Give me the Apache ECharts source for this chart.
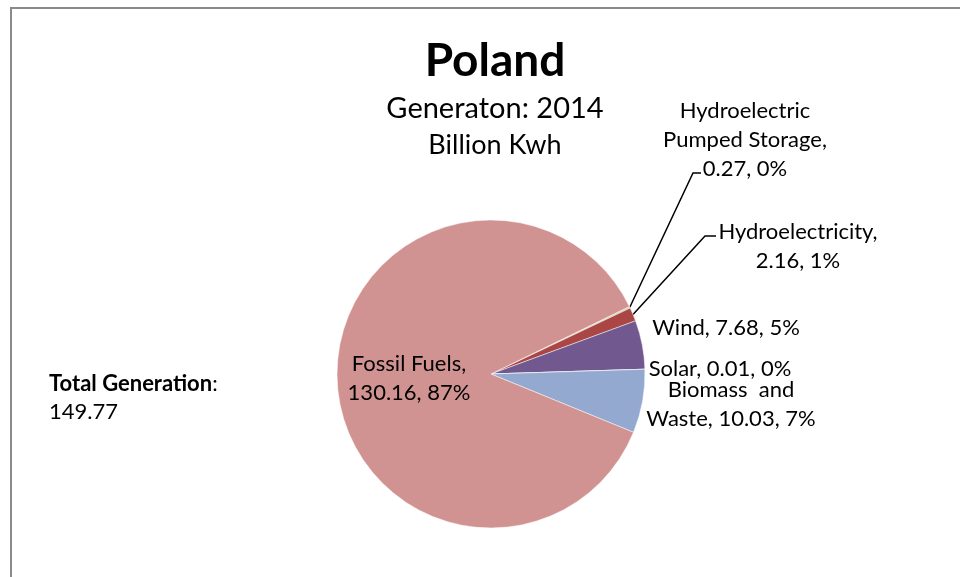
<!DOCTYPE html>
<html>
<head>
<meta charset="utf-8">
<title>Poland</title>
<script src="https://cdn.jsdelivr.net/npm/echarts@6/dist/echarts.min.js"></script>
<style>
  body { margin: 0; background: #fff; }
  #wrap { position: relative; width: 960px; height: 577px; }
  #myChart { width: 960px; height: 577px; }
  #frame {
    position: absolute; left: 10px; top: 7px; right: -4px; bottom: -4px;
    border-top: 2px solid #8a8a8a; border-left: 2px solid #8a8a8a;
    pointer-events: none;
  }
</style>
</head>
<body>
<div id="wrap">
  <div id="myChart"></div>
  <div id="frame"></div>
</div>
<script>
// data (clockwise from the slice at the upper right)
var categories = ['Hydroelectric Pumped Storage', 'Hydroelectricity', 'Wind', 'Solar', 'Biomass and Waste', 'Fossil Fuels'];
var values = [0.27, 2.16, 7.68, 0.01, 10.03, 130.16];
var totalGeneration = '149.77';

// label text templates, same order
var labelTpl = [
  'Hydroelectric\nPumped Storage,\n{c}, {d}%',
  'Hydroelectricity,\n{c}, {d}%',
  'Wind, {c}, {d}%',
  'Solar, {c}, {d}%',
  'Biomass  and\nWaste, {c}, {d}%',
  'Fossil Fuels,\n{c}, {d}%'
];
var colors = ['#c6d39a', '#aa4643', '#71588f', '#8a8a8a', '#93a9d0', '#d09391'];

// where each label sits, and the bend of the leader line
var labelPos = [
  { x: 745, y: 140, line: [[693, 173], [701, 173]] },
  { x: 798, y: 246, line: [[705, 236], [716, 236]] },
  { x: 726, y: 328 },
  { x: 720, y: 369 },
  { x: 731, y: 404 },
  { x: 409, y: 378 }
];

var myChart = echarts.init(document.getElementById('myChart'));

var pieData = categories.map(function (name, i) {
  return {
    name: name,
    value: values[i],
    itemStyle: { color: colors[i] },
    label: { formatter: labelTpl[i] },
    labelLine: { show: !!labelPos[i].line }
  };
});

var option = {
  backgroundColor: '#fff',
  animation: false,
  title: [
    {
      text: 'Poland',
      left: 490, top: 33, textAlign: 'center',
      textStyle: { fontFamily: 'Lato', fontSize: 46, fontWeight: 'bold', color: '#000' }
    },
    {
      text: 'Generaton: 2014',
      left: 490, top: 87, textAlign: 'center',
      textStyle: { fontFamily: 'Lato', fontSize: 29, fontWeight: 'normal', color: '#000', lineHeight: 34 }
    },
    {
      text: 'Billion Kwh',
      left: 490, top: 125, textAlign: 'center',
      textStyle: { fontFamily: 'Lato', fontSize: 27, fontWeight: 'normal', color: '#000', lineHeight: 30 }
    }
  ],
  graphic: [
    {
      type: 'text', left: 49, top: 370,
      style: {
        text: '{b|Total Generation}:\n' + totalGeneration,
        font: '22px Lato', fill: '#000', lineHeight: 28,
        rich: { b: { fontWeight: 'bold', fontFamily: 'Lato', fontSize: 22 } }
      }
    }
  ],
  series: [
    {
      type: 'pie',
      center: [491, 374],
      radius: 154,
      startAngle: 26,
      clockwise: true,
      avoidLabelOverlap: false,
      percentPrecision: 0,
      itemStyle: { borderColor: '#fff', borderWidth: 0.5 },
      label: {
        show: true,
        position: 'outside',
        color: '#000',
        fontFamily: 'Lato',
        fontSize: 22,
        lineHeight: 29,
        align: 'center'
      },
      labelLine: {
        show: true,
        lineStyle: { color: '#000', width: 1.5 }
      },
      emphasis: { disabled: true },
      labelLayout: function (params) {
        var p = labelPos[params.dataIndex];
        var res = { x: p.x, y: p.y, align: 'center', verticalAlign: 'middle' };
        if (p.line && params.labelLinePoints) {
          res.labelLinePoints = [params.labelLinePoints[0], p.line[0], p.line[1]];
        }
        return res;
      },
      data: pieData
    }
  ]
};

myChart.setOption(option);
window.addEventListener('resize', function () { myChart.resize(); });
</script>
</body>
</html>
